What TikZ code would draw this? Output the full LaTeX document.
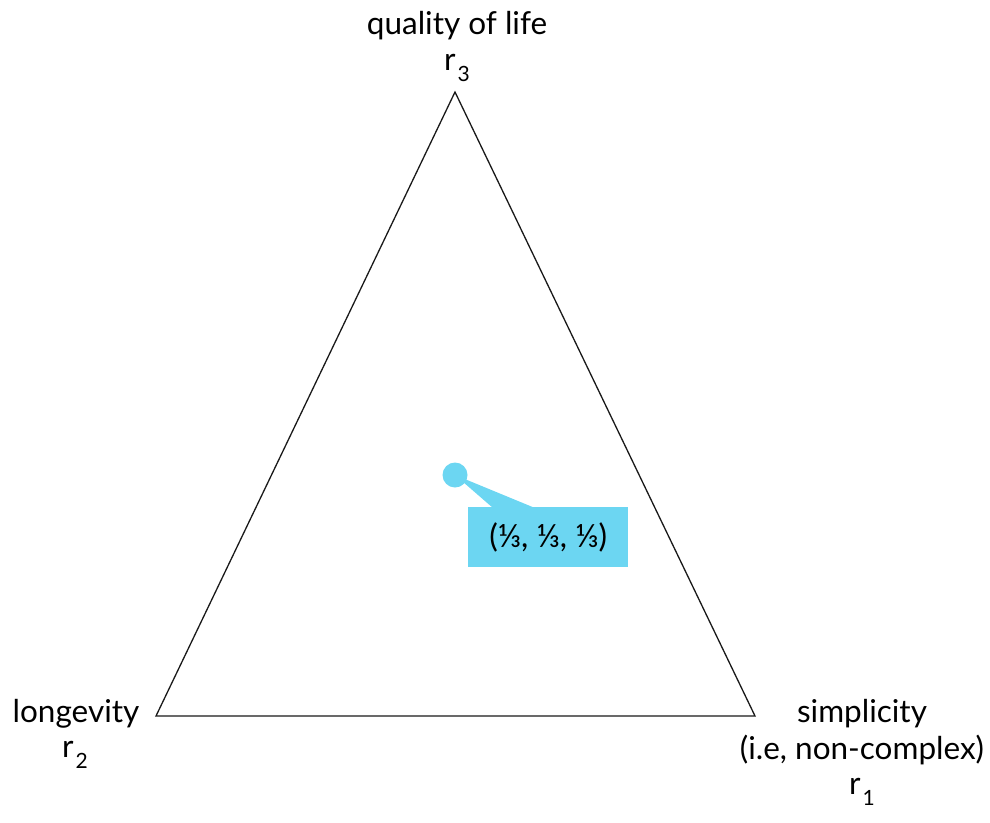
\documentclass[tikz,border=0pt]{standalone}
\usepackage{fontspec}
\setmainfont{Lato}
\definecolor{cal}{HTML}{6CD6F2}
\newcommand{\rsub}[1]{r\kern2pt\raisebox{-0.7ex}{\fontsize{21}{24}\selectfont #1}}
\begin{document}
\begin{tikzpicture}[x=1pt,y=-1pt,
  lab/.style={font=\fontsize{31.5}{36}\selectfont, align=center, inner sep=0pt},
  edge/.style={draw=black!90, line width=1.3pt}]
\useasboundingbox (0,0) rectangle (990,822);
\coordinate (T) at (455,92);
\coordinate (L) at (156,716);
\coordinate (R) at (755,716);
\draw[edge, line join=miter] (T) -- (L) -- (R) -- cycle;
% callout
\node[fill=cal, minimum width=160pt, minimum height=60pt, inner sep=0pt, anchor=north west,
  font=\fontsize{32}{38}\selectfont] (box) at (468,507) {(⅓, ⅓, ⅓)};
\node[circle, fill=cal, minimum size=25pt, inner sep=0pt] (dot) at (455,475) {};
\fill[cal] (dot.center) -- (493,508) -- (535,508) -- cycle;
% labels
\node[lab] (q) at (457,26) {quality of life};
\node[lab] (r3) at (457,68) {\rsub{3}};
\node[lab] (lg) at (76,714) {longevity};
\node[lab] (r2) at (75,755) {\rsub{2}};
\node[lab] (sp) at (862,714) {simplicity};
\node[lab] (ie) at (862,750) {(i.e, non-complex)};
\node[lab] (r1) at (862,792) {\rsub{1}};
\end{tikzpicture}
\end{document}
